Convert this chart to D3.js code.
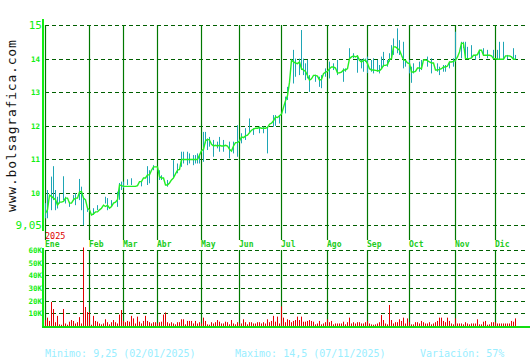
<!DOCTYPE html>
<html>
<head>
<meta charset="utf-8">
<script src="https://cdn.jsdelivr.net/npm/d3@7"></script>
<style>
body { margin: 0; background: #FFFFFF; }
text { font-family: "DejaVu Sans Mono", monospace; }
</style>
</head>
<body>
<div id="vis_container"></div>
<script>
// month labels and the trading-day index where each month starts
var months = ["Ene","Feb","Mar","Abr","May","Jun","Jul","Ago","Sep","Oct","Nov","Dic"];
var monthStart = [0,22,39,56,78,97,118,141,161,182,205,225];

var priceTicks = [15,14,13,12,11,10,9.05];
var priceTickLabels = ["15","14","13","12","11","10","9,05"];
var volumeTicks = [10,20,30,40,50,60];

// daily close
var closes = [
	9.4, 9.5, 9.94, 9.9, 9.85, 9.8, 9.64, 9.73, 9.73, 9.75,
	9.85, 9.85, 9.7, 9.7, 9.8, 9.85, 9.85, 10.03, 10.05, 9.85,
	9.8, 9.55, 9.5, 9.35, 9.38, 9.44, 9.44, 9.5, 9.55, 9.64,
	9.6, 9.64, 9.55, 9.6, 9.7, 9.73, 9.8, 10.24, 10.22, 10.2,
	10.2, 10.2, 10.2, 10.2, 10.2, 10.2, 10.22, 10.34, 10.34, 10.45,
	10.45, 10.54, 10.54, 10.68, 10.78, 10.78, 10.78, 10.49, 10.45, 10.45,
	10.24, 10.24, 10.3, 10.39, 10.45, 10.57, 10.68, 10.7, 11.0, 11.0,
	11.0, 11.0, 11.0, 11.0, 11.0, 11.0, 11.0, 11.13, 11.26, 11.3,
	11.55, 11.6, 11.58, 11.45, 11.4, 11.42, 11.4, 11.42, 11.4, 11.4,
	11.42, 11.4, 11.3, 11.25, 11.4, 11.5, 11.5, 11.55, 11.67, 11.65,
	11.7, 11.72, 11.8, 11.87, 11.9, 11.93, 11.93, 11.95, 11.93, 11.93,
	11.93, 11.95, 12.05, 12.08, 12.15, 12.26, 12.25, 12.3, 12.35, 12.55,
	12.75, 12.9, 13.3, 13.96, 13.9, 13.87, 13.85, 13.9, 13.7, 13.66,
	13.62, 13.5, 13.36, 13.4, 13.5, 13.5, 13.48, 13.36, 13.38, 13.55,
	13.6, 13.62, 13.7, 13.75, 13.75, 13.72, 13.57, 13.58, 13.6, 13.66,
	13.66, 13.7, 14.0, 14.05, 14.08, 14.05, 14.08, 13.95, 13.9, 13.95,
	13.95, 13.85, 13.7, 13.66, 13.66, 13.65, 13.64, 13.64, 13.7, 13.8,
	13.8, 13.82, 13.98, 14.0, 14.35, 14.35, 14.3, 14.25, 14.1, 13.96,
	13.95, 13.87, 13.85, 13.6, 13.6, 13.62, 13.72, 13.72, 13.7, 13.96,
	13.96, 13.94, 13.9, 13.87, 13.87, 13.66, 13.66, 13.68, 13.7, 13.75,
	13.75, 13.78, 13.9, 13.9, 13.92, 13.95, 14.05, 14.2, 14.46, 14.45,
	14.0, 14.0, 14.0, 14.02, 14.1, 14.1, 14.12, 14.25, 14.25, 14.1,
	14.1, 14.1, 14.1, 14.08, 14.0, 14.0, 13.98, 13.98, 13.98, 13.98,
	14.08, 14.08, 14.08, 14.05, 13.98, 13.98
];

// [day index, low, high]
var ranges = [
	[0,9.25,9.7],[1,9.25,10.09],[3,9.49,10.49],[4,9.79,10.8],[5,9.49,10.09],
	[6,9.54,9.89],[7,9.69,9.99],[9,9.79,10.5],[10,9.69,9.89],[12,9.59,9.74],
	[14,9.79,9.94],[15,9.64,10.0],[17,9.79,10.42],[18,9.49,10.19],[19,9.05,9.89],
	[21,9.44,9.59],[24,9.35,9.55],[26,9.49,9.64],[30,9.69,9.89],[31,9.49,9.85],
	[33,9.59,9.79],[36,9.59,10.04],[37,9.8,10.3],[38,10.09,10.34],[39,10.15,10.34],
	[41,10.24,10.41],[43,10.24,10.44],[48,10.2,10.34],[51,10.24,10.8],[52,10.29,10.68],
	[54,10.68,10.83],[57,10.39,10.68],[58,10.39,10.53],[61,10.19,10.39],[64,10.44,10.98],
	[66,10.59,10.88],[68,10.78,11.23],[69,10.88,11.23],[71,10.83,11.23],[72,10.88,11.18],
	[74,10.83,11.13],[75,10.88,11.13],[76,10.88,11.18],[77,10.88,11.13],[79,10.93,11.82],
	[80,11.48,11.82],[81,11.28,11.62],[82,11.38,11.67],[84,11.08,11.58],[86,11.33,11.53],
	[87,11.23,11.67],[89,11.23,11.58],[92,11.03,11.53],[94,11.18,11.53],[96,11.08,12.02],
	[98,11.48,11.78],[100,11.58,11.93],[102,11.78,12.22],[104,11.73,11.93],[107,11.78,11.98],
	[109,11.78,11.98],[111,11.18,11.98],[114,11.97,12.32],[115,12.0,12.32],[117,12.07,12.32],
	[120,12.37,12.87],[121,12.77,13.16],[124,13.26,14.26],[125,13.46,14.0],[127,13.51,14.0],
	[128,13.66,14.85],[129,13.51,14.0],[130,13.36,13.86],[131,13.41,13.96],[132,13.01,13.51],
	[135,13.31,13.52],[137,13.16,13.46],[138,13.12,13.51],[140,13.46,13.71],[142,13.41,13.91],
	[144,13.66,13.86],[146,13.51,13.96],[149,13.31,13.71],[150,13.61,13.71],[152,13.96,14.31],
	[154,14.01,14.16],[156,13.58,14.1],[158,13.71,13.98],[159,13.61,14.01],[160,13.9,14.0],
	[161,13.57,14.06],[163,13.61,13.96],[164,13.56,14.01],[166,13.61,13.96],[167,13.56,13.81],
	[168,13.71,14.06],[169,13.76,14.2],[171,13.76,13.96],[172,13.91,14.16],[173,14.01,14.4],
	[174,14.11,14.6],[176,14.16,14.9],[177,14.11,14.55],[179,13.71,14.5],[180,13.76,13.96],
	[182,13.56,13.96],[183,13.28,13.76],[184,13.56,13.86],[187,13.61,13.91],[188,13.66,13.96],
	[191,13.76,14.06],[193,13.56,14.01],[196,13.61,13.86],[197,13.51,13.76],[199,13.61,13.81],
	[200,13.61,13.81],[202,13.71,13.91],[204,13.76,14.01],[205,13.91,14.8],[208,14.01,14.5],
	[209,14.31,14.5],[210,14.06,14.5],[211,14.01,14.35],[213,14.01,14.4],[215,13.96,14.11],
	[217,14.01,14.26],[219,14.11,14.31],[221,14.01,14.26],[224,13.98,14.26],[226,13.98,14.26],
	[227,13.96,14.5],[229,13.96,14.5],[231,13.98,14.11],[234,13.96,14.31],[235,13.98,14.11]
];

// daily volume, thousands
var volumes = [
	4.7, 6.6, 4, 19, 13.4, 3, 8, 1.3, 1, 13.4,
	2, 1, 3.4, 4.7, 4, 2, 3, 7, 2, 62,
	15, 11, 11, 1, 8, 4, 3.4, 2, 1.3, 2,
	5.3, 3, 1.3, 3, 4.7, 3, 2, 9, 12.6, 4,
	3, 4, 3.4, 8, 6, 2, 7.4, 3.4, 2, 4,
	8, 4, 3, 2, 3, 3, 2, 3, 3.4, 9,
	10.7, 3, 2, 3, 2, 1.3, 3, 3, 5.3, 5.3,
	1.3, 4, 4, 4, 2, 4, 2, 3, 2, 6.6,
	4, 1.3, 1, 3, 2, 3, 4.7, 3.4, 2, 2,
	3.4, 3, 1.3, 4.7, 2, 1.3, 3, 2, 2, 5.3,
	3, 1.3, 3, 3, 2, 2, 3, 3, 2, 3,
	2, 5.3, 3, 4, 8, 3.4, 7.4, 2, 15.5, 6.6,
	3, 5.3, 4.7,
	3, 4, 4.7, 7.4, 4.7, 7.4, 3.4, 3.4, 4, 4.7,
	4, 3.4, 1.3, 2, 4, 1.3, 2, 3, 5.3, 3,
	4, 1.3, 2, 2, 2, 2, 3.4, 1.3, 3, 6.6,
	2, 3, 2, 3, 3, 2, 2, 3, 4, 2,
	1.3, 1, 1.3, 2, 3, 8.7, 4.7, 2, 1.3, 16.6,
	4.7, 2, 3, 3, 5.3, 4, 6.6, 2, 6, 3,
	1.3, 1.3, 3, 3, 2, 4, 3, 2, 2, 3,
	1.3, 2, 3, 4, 6.6, 6.6, 4, 3, 6.6, 4,
	2, 1.3, 6, 2, 2, 2, 1.3, 3, 2, 1.3,
	2, 2, 2, 5.3, 1.3, 1.3, 3.4, 4, 1, 1.3,
	3, 3, 3, 2, 2, 2, 2, 2, 2, 2,
	4, 3.4, 6
];

var chart = {};
chart.width = 530;
chart.height = 360;

chart.svg = d3.select("#vis_container").append("svg")
	.attr("width", chart.width)
	.attr("height", chart.height)
	.style("background-color", "#FFFFFF");

chart.x = d3.scaleLinear().domain([0, 241]).range([45, 527]);
chart.yPrice = d3.scaleLinear().domain([9.05, 15]).range([225, 25]);
chart.yVol = d3.scaleLinear().domain([0, 60]).range([326, 250]);

// snap to pixel centre so 1px lines stay crisp
function crisp(v) { return Math.round(v) + 0.5; }

// watermark
chart.svg.append("text")
	.attr("transform", "translate(16,212) rotate(-90)")
	.attr("font-size", 13)
	.attr("letter-spacing", 0.8)
	.attr("fill", "#111111")
	.text("www.bolsagrafica.com");

// horizontal dashed grid
chart.svg.selectAll(".pgrid").data(priceTicks).enter().append("line")
	.attr("x1", 45).attr("x2", 527)
	.attr("y1", function(d) { return crisp(chart.yPrice(d)); })
	.attr("y2", function(d) { return crisp(chart.yPrice(d)); })
	.attr("stroke", "#005f00").attr("stroke-width", 1)
	.attr("stroke-dasharray", "4,3");

chart.svg.selectAll(".vgrid").data(volumeTicks).enter().append("line")
	.attr("x1", 45).attr("x2", 527)
	.attr("y1", function(d) { return crisp(chart.yVol(d)); })
	.attr("y2", function(d) { return crisp(chart.yVol(d)); })
	.attr("stroke", "#005f00").attr("stroke-width", 1)
	.attr("stroke-dasharray", "4,3");

// month lines
chart.svg.selectAll(".mline").data(monthStart).enter().append("line")
	.attr("x1", function(d) { return crisp(chart.x(d)); })
	.attr("x2", function(d) { return crisp(chart.x(d)); })
	.attr("y1", 25).attr("y2", 240)
	.attr("stroke", "#007800").attr("stroke-width", 1.2);

chart.svg.selectAll(".mline2").data(monthStart).enter().append("line")
	.attr("x1", function(d) { return crisp(chart.x(d)); })
	.attr("x2", function(d) { return crisp(chart.x(d)); })
	.attr("y1", 250).attr("y2", 326)
	.attr("stroke", "#007800").attr("stroke-width", 1.2);

chart.svg.selectAll(".mlabel").data(months).enter().append("text")
	.attr("x", function(d, i) { return chart.x(monthStart[i]); })
	.attr("y", 247)
	.attr("font-size", 8)
	.attr("font-weight", "bold")
	.attr("fill", "#22cc22")
	.text(function(d) { return d; });

chart.svg.append("text")
	.attr("x", 45).attr("y", 239)
	.attr("font-size", 8.5)
	.attr("fill", "#dd0000")
	.text("2025");

// price tick labels
chart.svg.selectAll(".plabel").data(priceTicks).enter().append("text")
	.attr("x", function(d, i) { return (i == 0 || i == priceTicks.length - 1) ? 42 : 40; })
	.attr("y", function(d) { return chart.yPrice(d); })
	.attr("dy", function(d, i) { return (i == 0 || i == priceTicks.length - 1) ? 4 : 3; })
	.attr("text-anchor", "end")
	.attr("font-size", function(d, i) { return (i == 0 || i == priceTicks.length - 1) ? 11 : 7.5; })
	.attr("font-weight", function(d, i) { return (i == 0 || i == priceTicks.length - 1) ? "normal" : "bold"; })
	.attr("fill", "#11ee11")
	.text(function(d, i) { return priceTickLabels[i]; });

chart.svg.selectAll(".vlabel").data(volumeTicks).enter().append("text")
	.attr("x", 42)
	.attr("y", function(d) { return chart.yVol(d); })
	.attr("dy", 3)
	.attr("text-anchor", "end")
	.attr("font-size", 7.5)
	.attr("font-weight", "bold")
	.attr("fill", "#11ee11")
	.text(function(d) { return d + "K"; });

// high-low bars
chart.svg.selectAll(".range").data(ranges).enter().append("line")
	.attr("x1", function(d) { return chart.x(d[0]) + 0.5; })
	.attr("x2", function(d) { return chart.x(d[0]) + 0.5; })
	.attr("y1", function(d) { return chart.yPrice(d[1]); })
	.attr("y2", function(d) { return chart.yPrice(d[2]); })
	.attr("stroke", "#1ea5b5").attr("stroke-width", 1);

// close line
chart.line = d3.line()
	.x(function(d, i) { return chart.x(i) + 0.5; })
	.y(function(d) { return chart.yPrice(d); });

chart.svg.append("path")
	.datum(closes)
	.attr("d", chart.line)
	.attr("fill", "none")
	.attr("stroke", "#22ee22")
	.attr("stroke-width", 1.4);

// volume bars
chart.svg.selectAll(".vbar").data(volumes).enter().append("rect")
	.attr("x", function(d, i) { return chart.x(i); })
	.attr("width", 1)
	.attr("y", function(d) { return chart.yVol(d); })
	.attr("height", function(d) { return chart.yVol(0) - chart.yVol(d); })
	.attr("fill", "#e00000");

// axes
chart.svg.append("line")
	.attr("x1", 43).attr("x2", 43).attr("y1", 19).attr("y2", 231)
	.attr("stroke", "#11ee11").attr("stroke-width", 2);
chart.svg.append("line")
	.attr("x1", 43).attr("x2", 43).attr("y1", 248).attr("y2", 327)
	.attr("stroke", "#11ee11").attr("stroke-width", 2);
chart.svg.append("line")
	.attr("x1", 42).attr("x2", 530).attr("y1", 327).attr("y2", 327)
	.attr("stroke", "#11dd11").attr("stroke-width", 2);

// footer
var footer = [
	{"x": 45, "t": "Minimo: 9,25 (02/01/2025)"},
	{"x": 235, "t": "Maximo: 14,5 (07/11/2025)"},
	{"x": 420, "t": "Variación: 57%"}
];
chart.svg.selectAll(".foot").data(footer).enter().append("text")
	.attr("x", function(d) { return d.x; })
	.attr("y", 357)
	.attr("font-size", 10)
	.attr("fill", "#99eeff")
	.text(function(d) { return d.t; });
</script>
</body>
</html>
